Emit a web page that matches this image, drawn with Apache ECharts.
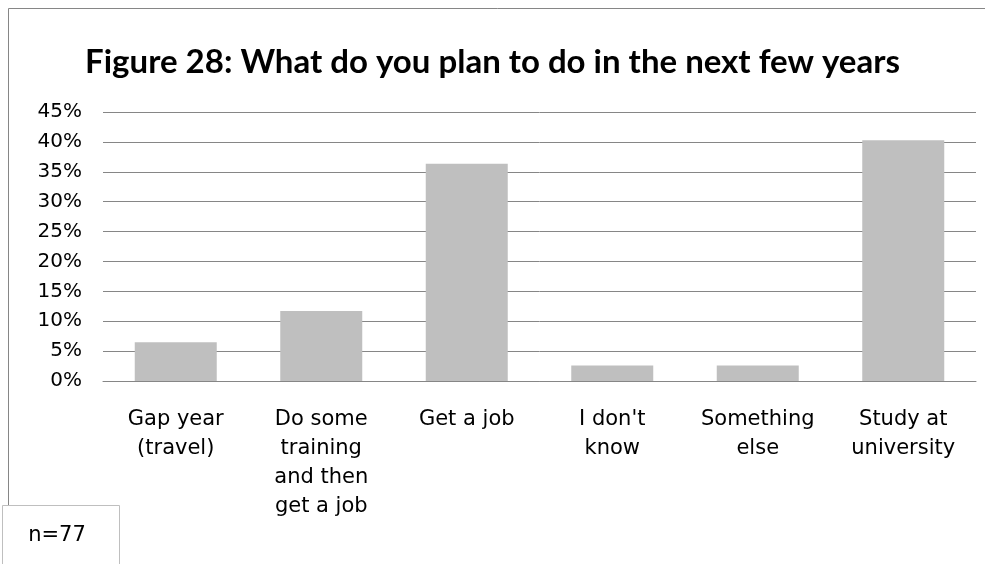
<!DOCTYPE html>
<html>
<head>
<meta charset="utf-8">
<title>Figure 28</title>
<script src="https://cdn.jsdelivr.net/npm/echarts@6/dist/echarts.min.js"></script>
<style>
  html, body { margin: 0; padding: 0; background: #fff; }
  #chart { width: 985px; height: 564px; }
</style>
</head>
<body>
<div id="chart"></div>
<script>
// Survey answers (n = 77), share of respondents in percent
const categories = ['Gap year (travel)', 'Do some training and then get a job', 'Get a job', "I don't know", 'Something else', 'Study at university'];
const tickLabels = ['Gap year\n(travel)', 'Do some\ntraining\nand then\nget a job', 'Get a job', "I don't\nknow", 'Something\nelse', 'Study at\nuniversity'];
const shares = [6.49, 11.69, 36.36, 2.60, 2.60, 40.26];
const yTicks = [0, 5, 10, 15, 20, 25, 30, 35, 40, 45];
const sampleNote = 'n=77';

const chart = echarts.init(document.getElementById('chart'), null, { renderer: 'canvas' });

chart.setOption({
  backgroundColor: '#ffffff',
  animation: false,
  title: {
    text: 'Figure 28: What do you plan to do in the next few years',
    left: 'center',
    top: 41,
    textStyle: { fontFamily: 'Lato', fontWeight: 'bold', fontSize: 33, color: '#000' }
  },
  grid: { left: 103, right: 9, top: 112, bottom: 183 },
  xAxis: {
    type: 'category',
    data: categories,
    axisLine: { show: true, lineStyle: { color: '#868686', width: 1 } },
    axisTick: { show: false },
    axisLabel: {
      interval: 0,
      margin: 24,
      fontFamily: 'DejaVu Sans',
      fontSize: 21,
      lineHeight: 29,
      color: '#000',
      formatter: (v, i) => tickLabels[i]
    }
  },
  yAxis: {
    type: 'value',
    min: yTicks[0],
    max: yTicks[yTicks.length - 1],
    interval: 5,
    axisLine: { show: false },
    axisTick: { show: false },
    splitLine: { lineStyle: { color: '#868686', width: 1 } },
    axisLabel: {
      margin: 21,
      fontFamily: 'DejaVu Sans',
      fontSize: 20,
      color: '#000',
      formatter: '{value}%'
    }
  },
  series: [{
    type: 'bar',
    data: shares,
    barWidth: 82,
    itemStyle: { color: '#bfbfbf' }
  }],
  graphic: [
    {
      type: 'polyline',
      silent: true,
      shape: { points: [[8.5, 506], [8.5, 8.5], [990, 8.5]] },
      style: { fill: null, stroke: '#868686', lineWidth: 1 }
    },
    {
      type: 'rect',
      silent: true,
      shape: { x: 2.5, y: 505.5, width: 117, height: 80 },
      style: { fill: '#ffffff', stroke: '#bfbfbf', lineWidth: 1 }
    },
    {
      type: 'text',
      silent: true,
      x: 57,
      y: 536,
      style: {
        text: sampleNote,
        fontFamily: 'DejaVu Sans',
        fontSize: 21,
        fill: '#000',
        align: 'center',
        verticalAlign: 'middle'
      }
    }
  ]
});
</script>
</body>
</html>
